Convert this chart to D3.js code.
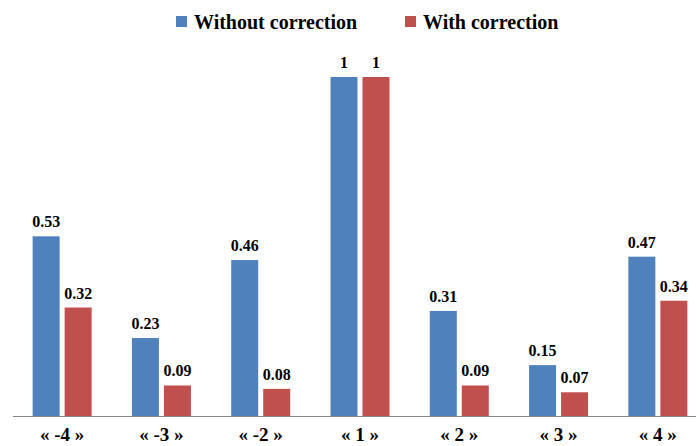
<!DOCTYPE html>
<html><head><meta charset="utf-8">
<script src="https://cdn.jsdelivr.net/npm/d3@7"></script>
<style>body{margin:0;background:#fff} text{font-family:"Liberation Serif","DejaVu Serif",serif;font-weight:bold}</style>
</head><body><div id="wrapper"></div>
<script>
const categories = ["« -4 »", "« -3 »", "« -2 »", "« 1 »", "« 2 »", "« 3 »", "« 4 »"]
const withoutCorrection = [0.53, 0.23, 0.46, 1, 0.31, 0.15, 0.47]
const withCorrection = [0.32, 0.09, 0.08, 1, 0.09, 0.07, 0.34]
const seriesNames = ["Without correction", "With correction"]
const colors = ["#4f81bd", "#c0504d"]

const width = 696, height = 446
const baseY = 416, topY = 77

const svg = d3.select("#wrapper").append("svg")
  .attr("width", width).attr("height", height)

const xScale = d3.scaleBand().domain(categories).range([12.5, 707.5])
const yScale = d3.scaleLinear().domain([0, 1]).range([baseY, topY])
const barW = 27, gap = 5
const off = (xScale.bandwidth() - (2 * barW + gap)) / 2

const series = [withoutCorrection, withCorrection]
series.forEach((vals, s) => {
  const g = svg.append("g")
  g.selectAll("rect").data(vals).join("rect")
    .attr("x", (d, i) => xScale(categories[i]) + off + s * (barW + gap))
    .attr("y", d => yScale(d))
    .attr("width", barW)
    .attr("height", d => baseY - yScale(d))
    .attr("fill", colors[s])
  g.selectAll("text").data(vals).join("text")
    .attr("x", (d, i) => xScale(categories[i]) + off + s * (barW + gap) + barW / 2)
    .attr("y", d => yScale(d) - 9)
    .attr("text-anchor", "middle")
    .style("font-size", "16px")
    .text(d => d)
})

svg.append("line").attr("x1", 13).attr("x2", 696).attr("y1", baseY + 0.5).attr("y2", baseY + 0.5)
  .attr("stroke", "#888").attr("stroke-width", 1)

svg.append("g").selectAll("text").data(categories).join("text")
  .attr("x", d => xScale(d) + xScale.bandwidth() / 2)
  .attr("y", 441)
  .attr("text-anchor", "middle")
  .style("font-size", "19px")
  .text(d => d)

const legendX = [176, 405]
seriesNames.forEach((n, i) => {
  svg.append("rect").attr("x", legendX[i]).attr("y", 16).attr("width", 11).attr("height", 11).attr("fill", colors[i])
  svg.append("text").attr("x", legendX[i] + 18).attr("y", 29)
    .style("font-size", "20px").text(n)
})
</script></body></html>
